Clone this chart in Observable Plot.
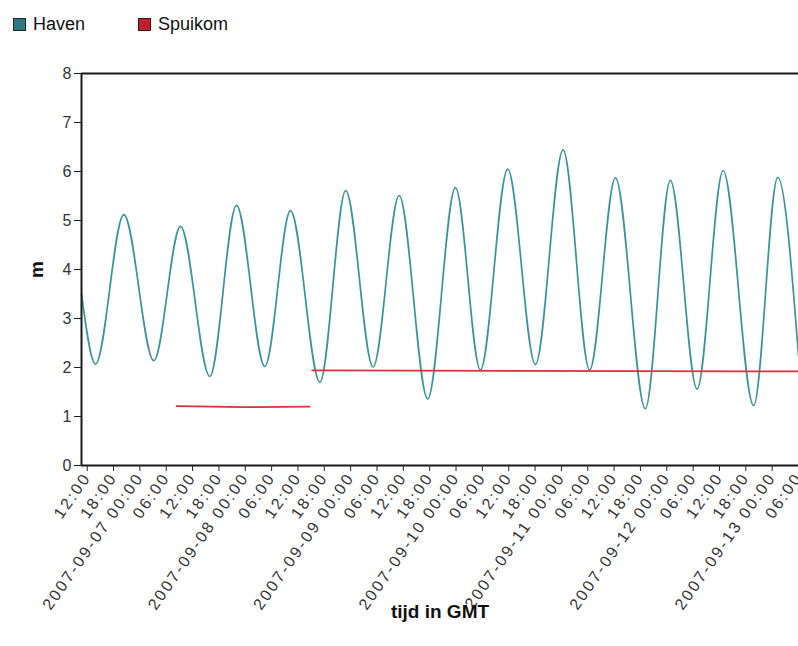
<!DOCTYPE html>
<html>
<head>
<meta charset="utf-8">
<script src="https://cdn.jsdelivr.net/npm/d3@7"></script>
<script src="https://cdn.jsdelivr.net/npm/@observablehq/plot@0.6"></script>
<style>
  html, body { margin: 0; padding: 0; background: #fff; }
  body { width: 798px; height: 646px; overflow: hidden; font-family: "Liberation Sans", Arial, sans-serif; }
  #legend { height: 45px; position: relative; font-size: 18px; color: #111; }
  .item { position: absolute; top: 14px; display: flex; align-items: center; }
  .sw { width: 11px; height: 11px; border: 1px solid #222; margin-right: 7px; }
  #chart svg g[aria-label="x-axis tick label"] text { letter-spacing: 2.3px; fill: #333; }
  #chart svg g[aria-label="y-axis tick label"] text { fill: #333; }
  #chart svg g[aria-label="x-axis label"] text { font-weight: bold; font-size: 19px; fill: #111; }
  #chart svg g[aria-label="y-axis label"] text { font-weight: bold; font-size: 19px; fill: #111; }
</style>
</head>
<body>
<div id="legend"></div>
<div id="chart"></div>
<script>
// ---- data ----
const seriesNames = ["Haven", "Spuikom"];
const seriesColors = ["#3a9696", "#d8323a"];
const legendColors = ["#2c7884", "#c01e28"];

const xDomain = [new Date("2007-09-06T10:42Z"), new Date("2007-09-13T06:00Z")];
const yTicks = [0, 1, 2, 3, 4, 5, 6, 7, 8];

const havenTimes = [
  "2007-09-06T10:42Z", "2007-09-06T13:54Z", "2007-09-06T20:20Z", "2007-09-07T03:10Z",
  "2007-09-07T09:15Z", "2007-09-07T15:55Z", "2007-09-07T22:00Z", "2007-09-08T04:27Z",
  "2007-09-08T10:18Z", "2007-09-08T17:00Z", "2007-09-08T22:53Z", "2007-09-09T05:07Z",
  "2007-09-09T11:03Z", "2007-09-09T17:33Z", "2007-09-09T23:52Z", "2007-09-10T05:33Z",
  "2007-09-10T11:46Z", "2007-09-10T18:05Z", "2007-09-11T00:23Z", "2007-09-11T06:26Z",
  "2007-09-11T12:18Z", "2007-09-11T19:07Z", "2007-09-12T00:49Z", "2007-09-12T06:54Z",
  "2007-09-12T12:50Z", "2007-09-12T19:47Z", "2007-09-13T01:16Z", "2007-09-13T06:00Z"
];
const havenValues = [
  3.50, 2.07, 5.12, 2.14,
  4.88, 1.82, 5.31, 2.02,
  5.20, 1.70, 5.61, 2.01,
  5.51, 1.36, 5.67, 1.95,
  6.05, 2.06, 6.44, 1.95,
  5.87, 1.16, 5.82, 1.56,
  6.02, 1.22, 5.88, 2.24
];

const spuikomTimes = [
  "2007-09-07T08:20Z", "2007-09-08T00:00Z", "2007-09-08T14:40Z",
  "2007-09-08T15:15Z", "2007-09-13T06:00Z"
];
const spuikomValues = [1.21, 1.19, 1.20, 1.94, 1.92];
const spuikomSegments = [1, 1, 1, 2, 2];

// ---- build tables ----
const haven = havenTimes.map((t, i) => ({t: new Date(t), v: havenValues[i]}));
const spuikom = spuikomTimes.map((t, i) => ({t: new Date(t), v: spuikomValues[i], seg: spuikomSegments[i]}));

// legend
const legend = document.getElementById("legend");
const legendX = [13, 138];
seriesNames.forEach((name, i) => {
  const d = document.createElement("div");
  d.className = "item";
  d.style.left = legendX[i] + "px";
  d.innerHTML = `<span class="sw" style="background:${legendColors[i]}"></span><span>${name}</span>`;
  legend.appendChild(d);
});

const fmtH = d3.utcFormat("%H:%M");
const fmtD = d3.utcFormat("%Y-%m-%d %H:%M");
const xTicks = d3.utcHour.every(6).range(xDomain[0], new Date(+xDomain[1] + 1));

const chart = Plot.plot({
  width: 798,
  height: 601,
  marginLeft: 81,
  marginRight: 0,
  marginTop: 28,
  marginBottom: 181,
  style: {fontFamily: "'Liberation Sans', Arial, sans-serif", color: "#222", background: "#fff"},
  x: {type: "utc", domain: xDomain},
  y: {domain: [0, 8]},
  marks: [
    Plot.line(haven, {x: "t", y: "v", stroke: seriesColors[0], strokeWidth: 1.7, curve: "monotone-x"}),
    Plot.line(spuikom, {x: "t", y: "v", z: "seg", stroke: seriesColors[1], strokeWidth: 1.7}),
    Plot.ruleY([0, 8], {stroke: "#1a1a1a", strokeWidth: 2}),
    Plot.ruleX([xDomain[0]], {stroke: "#1a1a1a", strokeWidth: 2}),
    Plot.axisY({
      ticks: yTicks, tickSize: 7, tickPadding: 3, fontSize: 16,
      label: "m", labelAnchor: "center", labelOffset: 52, labelArrow: "none"
    }),
    Plot.axisX({
      ticks: xTicks,
      tickFormat: d => d.getUTCHours() === 0 ? fmtD(d) : fmtH(d),
      tickRotate: -55, tickSize: 6, tickPadding: 3, fontSize: 16,
      label: "tijd in GMT", labelAnchor: "center", labelOffset: 152, labelArrow: "none"
    })
  ]
});
document.getElementById("chart").appendChild(chart);
</script>
</body>
</html>
